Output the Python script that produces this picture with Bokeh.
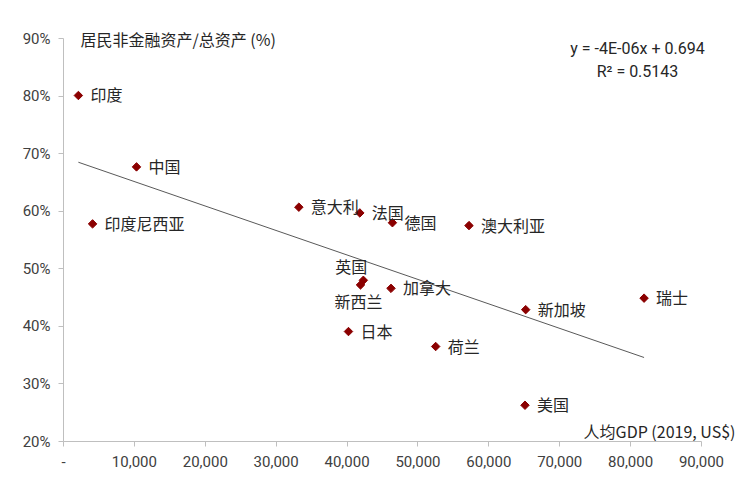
import math
from bokeh.plotting import figure
from bokeh.models import ColumnDataSource, NumeralTickFormatter, Label, FixedTicker, Range1d
from bokeh.core.properties import value
from bokeh.embed import file_html
from bokeh.resources import INLINE

countries = ["印度", "中国", "印度尼西亚", "意大利", "法国", "德国", "澳大利亚", "英国",
             "新西兰", "加拿大", "新加坡", "日本", "荷兰", "瑞士", "美国"]
gdp_per_capita = [2100, 10300, 4100, 33200, 41800, 46400, 57200, 42300,
                  41900, 46200, 65200, 40200, 52500, 81900, 65100]
non_fin_share = [0.801, 0.677, 0.578, 0.607, 0.597, 0.580, 0.575, 0.480,
                 0.472, 0.466, 0.429, 0.391, 0.365, 0.449, 0.263]

trend_intercept = 0.694
trend_slope = -4.25e-06
trend_x = [2100, 81900]

x_ticks = [0, 10000, 20000, 30000, 40000, 50000, 60000, 70000, 80000, 90000]
y_ticks = [0.2, 0.3, 0.4, 0.5, 0.6, 0.7, 0.8, 0.9]

# label placement (presentation only)
label_layout = {
    "英国": (-12, -14, "center"),
    "新西兰": (-2, 16, "center"),
}
xo, yo, al = [], [], []
for c in countries:
    dx, dy, a = label_layout.get(c, (12, -1, "left"))
    xo.append(dx); yo.append(dy); al.append(a)

src = ColumnDataSource(dict(x=gdp_per_capita, y=non_fin_share, name=countries,
                            xo=xo, yo=yo, al=al))

p = figure(width=744, height=490, output_backend="svg", toolbar_location=None,
           x_range=Range1d(0, 95502), y_range=Range1d(0.2, 0.93127),
           min_border_left=63, min_border_right=4, min_border_top=20, min_border_bottom=49)
p.outline_line_color = None
p.xgrid.visible = False
p.ygrid.visible = False
p.background_fill_color = "white"

ty = [trend_intercept + trend_slope * v for v in trend_x]
p.line(trend_x, ty, line_color="#595959", line_width=1)

p.scatter("x", "y", source=src, marker="square", angle=math.pi / 4, size=6,
          fill_color="#8b0000", line_color="#8b0000")
p.text("x", "y", text="name", source=src, x_offset="xo", y_offset="yo", text_align="al",
       text_baseline="middle", text_font=value("Noto Sans CJK SC"), text_font_size="16px",
       text_color="#262626")

for ax in (p.xaxis[0], p.yaxis[0]):
    ax.axis_line_color = "#bfbfbf"
    ax.major_tick_line_color = "#bfbfbf"
    ax.major_tick_out = 5
    ax.major_tick_in = 0
    ax.minor_tick_line_color = None
    ax.major_label_text_font = "Roboto"
    ax.major_label_text_font_size = "15px"
    ax.major_label_text_color = "#404040"

p.xaxis.bounds = (0, 90000)
p.yaxis.bounds = (0.2, 0.9)
p.xaxis.ticker = FixedTicker(ticks=x_ticks)
p.xaxis.formatter = NumeralTickFormatter(format="0,0")
p.xaxis.major_label_overrides = {0: "-"}
p.xaxis.major_label_standoff = 9
p.yaxis.ticker = FixedTicker(ticks=y_ticks)
p.yaxis.formatter = NumeralTickFormatter(format="0%")
p.yaxis.major_label_standoff = 8

p.add_layout(Label(x=2398, y=0.9, text="居民非金融资产/总资产 (%)", text_baseline="middle",
                   text_font="Noto Sans CJK SC", text_font_size="16px", text_color="#262626"))
p.add_layout(Label(x=80972, y=0.8826, text="y = -4E-06x + 0.694", text_align="center",
                   text_baseline="middle", text_font="Roboto", text_font_size="16px",
                   text_color="#262626"))
p.add_layout(Label(x=80972, y=0.8427, text="R² = 0.5143", text_align="center",
                   text_baseline="middle", text_font="Roboto", text_font_size="16px",
                   text_color="#262626"))
p.add_layout(Label(x=94797, y=0.2191, text="人均GDP (2019, US$)", text_align="right",
                   text_baseline="middle", text_font="Noto Sans CJK SC", text_font_size="16px",
                   text_color="#262626"))

open("out.html", "w").write(file_html(p, INLINE))
